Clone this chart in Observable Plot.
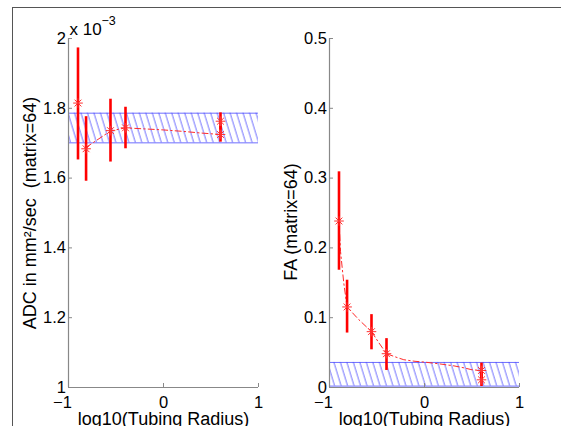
<!DOCTYPE html>
<html><head><meta charset="utf-8">
<script src="https://cdn.jsdelivr.net/npm/d3@7"></script>
<script src="https://cdn.jsdelivr.net/npm/@observablehq/plot@0.6"></script>
<style>
body{margin:0;background:#fff;}
#wrap{position:relative;width:561px;height:426px;overflow:hidden;background:#fff;font-family:"Liberation Sans",Arial,Helvetica,sans-serif;}
#frame{position:absolute;left:12px;top:7px;width:700px;height:600px;border-top:1.5px solid #555;border-left:1.5px solid #555;}
.panel{position:absolute;top:0;}
</style></head><body>
<div id="wrap"><div id="frame"></div></div>
<script>
// ---- data ----
const logRadius = [-0.9, -0.815, -0.558, -0.4, 0.6, 0.6];
const adcMean = [1.815, 1.684, 1.736, 1.744, 1.763, 1.725];
const adcLo   = [1.652, 1.591, 1.646, 1.684, 1.738, 1.703];
const adcHi   = [1.973, 1.776, 1.826, 1.803, 1.787, 1.748];
const faMean  = [0.2385, 0.1154, 0.080, 0.0484, 0.0244, 0.011];
const faLo    = [0.168, 0.078, 0.054, 0.0244, 0.012, 0.0014];
const faHi    = [0.309, 0.1537, 0.1044, 0.070, 0.035, 0.022];

const adcFitX = [-0.815, -0.558, -0.4, -0.2, 0, 0.2, 0.4, 0.6];
const adcFitY = [1.688, 1.735, 1.744, 1.741, 1.738, 1.734, 1.729, 1.725];
const faFitX  = [-0.9, -0.884, -0.85, -0.815, -0.69, -0.558, -0.48, -0.4, -0.3, -0.218, -0.1, 0, 0.15, 0.31, 0.42, 0.5, 0.6];
const faFitY  = [0.2385, 0.195, 0.15, 0.1154, 0.097, 0.080, 0.064, 0.0484, 0.0435, 0.0398, 0.0375, 0.0364, 0.034, 0.031, 0.028, 0.0254, 0.0244];

const adcBand = [1.701, 1.786];
const faBand  = [0.002, 0.0359];

const xTicks = [-1, 0, 1];
const adcTicks = [1, 1.2, 1.4, 1.6, 1.8, 2];
const faTicks = [0, 0.1, 0.2, 0.3, 0.4, 0.5];
const adcLabel = "ADC in mm\u00B2/sec  (matrix=64)";
const faLabel = "FA (matrix=64)";
const xLabel = "log10(Tubing Radius)";
const scaleBase = "x 10";
const scaleExp = "\u22123";

// ---- rendering ----
const fmt = d3.format("~g");
const asterisk = {
  draw(ctx, size) {
    const r = Math.sqrt(size / Math.PI), d = r * 0.7071;
    ctx.moveTo(-r, 0); ctx.lineTo(r, 0);
    ctx.moveTo(0, -r); ctx.lineTo(0, r);
    ctx.moveTo(-d, -d); ctx.lineTo(d, d);
    ctx.moveTo(-d, d); ctx.lineTo(d, -d);
  }
};

function panel({id, mean, lo, hi, fitX, fitY, band, yDomain, yTicks, yLabel, labelDy, extra}) {
  const pts = logRadius.map((x, i) => ({x, y: mean[i], lo: lo[i], hi: hi[i]}));
  const fit = fitX.map((x, i) => ({x, y: fitY[i]}));
  const svg = Plot.plot({
    width: 280, height: 426,
    marginLeft: 68, marginRight: 22, marginTop: 38, marginBottom: 39,
    x: {domain: [-1, 1], axis: null},
    y: {domain: yDomain, axis: null},
    style: {fontFamily: '"Liberation Sans", Arial, Helvetica, sans-serif', fontSize: "16.5px", color: "black", background: "transparent", overflow: "visible"},
    marks: [
      Plot.rect([band], {x1: -1, x2: 1, y1: d => d[0], y2: d => d[1], fill: `url(#hatch${id})`}),
      Plot.ruleY(band, {x1: -1, x2: 1, stroke: "#4a4aff", strokeWidth: 0.8}),
      Plot.line(fit, {x: "x", y: "y", stroke: "#ff2a2a", strokeWidth: 1, strokeDasharray: "6,3,1.5,3"}),
      Plot.ruleX(pts, {x: "x", y1: "lo", y2: "hi", stroke: "#ff0000", strokeWidth: 2.6}),
      Plot.dot(pts, {x: "x", y: "y", symbol: asterisk, r: 4.8, stroke: "#ff3030", strokeWidth: 1, fill: "none"}),
      Plot.ruleX([-1], {stroke: "#888", strokeWidth: 1.2}),
      Plot.ruleY([yDomain[0]], {stroke: "#888", strokeWidth: 1.2}),
      Plot.axisY(yTicks, {anchor: "left", tickSize: -4, tickPadding: 6.5, tickFormat: fmt, stroke: "#888", fill: "black", label: null, fontSize: 16.5}),
      Plot.axisX(xTicks.filter(d => d >= 0), {anchor: "bottom", tickSize: -4, tickPadding: 13, tickFormat: fmt, stroke: "#888", fill: "black", label: null, fontSize: 16.5}),
      Plot.axisX(xTicks.filter(d => d < 0), {anchor: "bottom", tickSize: 0, tickPadding: 9, dx: -6, tickFormat: fmt, fill: "black", label: null, fontSize: 16.5}),
      Plot.text([yLabel], {frameAnchor: "left", textAnchor: "middle", lineAnchor: "middle", dx: -38.5, dy: labelDy, rotate: -90, fontSize: 18, fill: "black"}),
      Plot.text([xLabel], {frameAnchor: "bottom", dy: 37, lineAnchor: "bottom", fontSize: 18, fill: "black"}),
      ...(extra || [])
    ]
  });
  const s = d3.select(svg);
  const defs = s.insert("defs", ":first-child");
  const p = defs.append("pattern").attr("id", `hatch${id}`).attr("patternUnits", "userSpaceOnUse")
    .attr("width", 6.2).attr("height", 12).attr("patternTransform", "rotate(-17)");
  p.append("line").attr("x1", 1).attr("x2", 1).attr("y1", -1).attr("y2", 13)
    .attr("stroke", "#4a4aff").attr("stroke-width", 0.8);
  svg.classList.add("panel");
  return svg;
}

const wrap = document.getElementById("wrap");
const left = panel({
  id: "L", mean: adcMean, lo: adcLo, hi: adcHi, fitX: adcFitX, fitY: adcFitY, band: adcBand,
  yDomain: [1, 2], yTicks: adcTicks, yLabel: adcLabel, labelDy: 0,
  extra: [
    Plot.text([scaleBase], {frameAnchor: "top-left", dx: 1, dy: -4, lineAnchor: "bottom", textAnchor: "start", fontSize: 17, fill: "black"}),
    Plot.text([scaleExp], {frameAnchor: "top-left", dx: 33, dy: -13.5, lineAnchor: "bottom", textAnchor: "start", fontSize: 12.5, fill: "black"})
  ]
});
left.style.left = "0px";
wrap.appendChild(left);
const right = panel({
  id: "R", mean: faMean, lo: faLo, hi: faHi, fitX: faFitX, fitY: faFitY, band: faBand,
  yDomain: [0, 0.5], yTicks: faTicks, yLabel: faLabel, labelDy: 9
});
right.style.left = "261px";
wrap.appendChild(right);
</script>
</body></html>
